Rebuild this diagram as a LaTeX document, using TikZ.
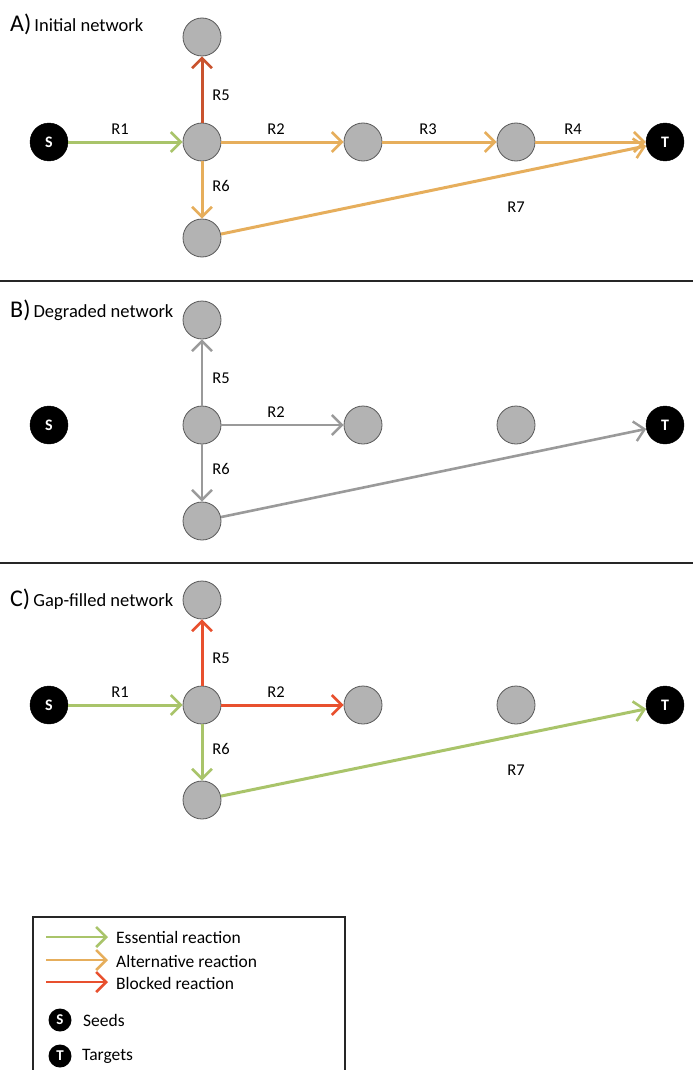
\documentclass[tikz,border=0pt]{standalone}
\usepackage{fontspec}
\setmainfont{Carlito}
\usetikzlibrary{arrows.meta}
\definecolor{essc}{HTML}{A9C46A}
\definecolor{altc}{HTML}{E6AE5C}
\definecolor{blkA}{HTML}{C9532E}
\definecolor{blkC}{HTML}{E8502E}
\definecolor{grayc}{HTML}{9A9A9A}
\definecolor{nodefill}{HTML}{B3B3B3}
\tikzset{
  met/.style={circle,minimum size=38pt,inner sep=0pt,fill=nodefill,draw=black!65,line width=0.8pt},
  term/.style={circle,minimum size=38pt,inner sep=0pt,fill=black,draw=black,text=white,font=\fontsize{16}{16}\selectfont\bfseries},
  lterm/.style={circle,minimum size=23pt,inner sep=0pt,fill=black,text=white,font=\fontsize{15}{15}\selectfont\bfseries},
  rx/.style={line width=3pt,-{Straight Barb[length=10pt,width=20pt,line width=2.6pt]}},
  rxg/.style={line width=2.6pt,-{Straight Barb[length=10pt,width=20pt,line width=2.4pt]}},
  lbl/.style={font=\fontsize{16.5}{16.5}\selectfont},
  ttl/.style={anchor=base west,inner sep=0pt,font=\fontsize{18.5}{18.5}\selectfont},
  leg/.style={anchor=west,inner sep=0pt,font=\fontsize{17.5}{17.5}\selectfont},
  sep/.style={line width=1.6pt,black!85}
}
\begin{document}
\begin{tikzpicture}[x=1pt,y=-1pt]
\useasboundingbox (0,0) rectangle (693,1070);
% ---------- Panel A ----------
\node[ttl] (tA) at (10,32) {{\fontsize{24}{24}\selectfont A)}\,Initial network};
\node[term] (aS) at (49,142) {S};
\node[met] (aH) at (202,142) {};
\node[met] (aU) at (202,37) {};
\node[met] (aD) at (202,238) {};
\node[met] (a2) at (363,142) {};
\node[met] (a3) at (516,142) {};
\node[term] (aT) at (665,142) {T};
\draw[rx,essc] (aS) -- (aH);
\draw[rx,blkA] (aH) -- (aU);
\draw[rx,altc] (aH) -- (a2);
\draw[rx,altc] (a2) -- (a3);
\draw[rx,altc] (a3) -- (aT);
\draw[rx,altc] (aH) -- (aD);
\draw[rx,altc] (aD) -- (aT);
\node[lbl] (aR1) at (120,129) {R1};
\node[lbl] (aR5) at (221,95) {R5};
\node[lbl] (aR2) at (276,129) {R2};
\node[lbl] (aR3) at (428,129) {R3};
\node[lbl] (aR4) at (573,129) {R4};
\node[lbl] (aR6) at (221,186) {R6};
\node[lbl] (aR7) at (516,207) {R7};
\coordinate (s1l) at (0,281); \coordinate (s1r) at (693,281);
\draw[sep] (s1l) -- (s1r);
% ---------- Panel B ----------
\node[ttl] (tB) at (10,317) {{\fontsize{24}{24}\selectfont B)}\,Degraded network};
\node[term] (bS) at (49,425) {S};
\node[met] (bH) at (202,425) {};
\node[met] (bU) at (202,320) {};
\node[met] (bD) at (202,521) {};
\node[met] (b2) at (363,425) {};
\node[met] (b3) at (516,425) {};
\node[term] (bT) at (665,425) {T};
\draw[rxg,grayc] (bH) -- (bU);
\draw[rxg,grayc] (bH) -- (b2);
\draw[rxg,grayc] (bH) -- (bD);
\draw[rxg,grayc] (bD) -- (bT);
\node[lbl] (bR5) at (221,378) {R5};
\node[lbl] (bR2) at (276,412) {R2};
\node[lbl] (bR6) at (221,469) {R6};
\coordinate (s2l) at (0,563); \coordinate (s2r) at (693,563);
\draw[sep] (s2l) -- (s2r);
% ---------- Panel C ----------
\node[ttl] (tC) at (10,606) {{\fontsize{24}{24}\selectfont C)}\,Gap-filled network};
\node[term] (cS) at (49,705) {S};
\node[met] (cH) at (202,705) {};
\node[met] (cU) at (202,600) {};
\node[met] (cD) at (202,800) {};
\node[met] (c2) at (363,705) {};
\node[met] (c3) at (516,705) {};
\node[term] (cT) at (665,705) {T};
\draw[rx,essc] (cS) -- (cH);
\draw[rx,blkC] (cH) -- (cU);
\draw[rx,blkC] (cH) -- (c2);
\draw[rx,essc] (cH) -- (cD);
\draw[rx,essc] (cD) -- (cT);
\node[lbl] (cR1) at (120,692) {R1};
\node[lbl] (cR5) at (221,658) {R5};
\node[lbl] (cR2) at (276,692) {R2};
\node[lbl] (cR6) at (221,749) {R6};
\node[lbl] (cR7) at (516,770) {R7};
% ---------- Legend ----------
\draw[line width=1.3pt,black!85] (33,1080) -- (33,917) -- (345,917) -- (345,1080);
\coordinate (l1a) at (46,937); \coordinate (l1b) at (108,937);
\coordinate (l2a) at (46,960); \coordinate (l2b) at (108,960);
\coordinate (l3a) at (46,982); \coordinate (l3b) at (108,982);
\draw[rx,essc,line width=2.6pt] (l1a) -- (l1b);
\draw[rx,altc,line width=2.6pt] (l2a) -- (l2b);
\draw[rx,blkC,line width=2.6pt] (l3a) -- (l3b);
\node[leg] (lt1) at (116,937) {Essential reaction};
\node[leg] (lt2) at (116,961) {Alternative reaction};
\node[leg] (lt3) at (116,983) {Blocked reaction};
\node[lterm] (lS) at (60,1020) {S};
\node[leg] (lt4) at (83,1020) {Seeds};
\node[lterm] (lT) at (60,1056) {T};
\node[leg] (lt5) at (82,1056) {Targets};
\end{tikzpicture}
\end{document}
